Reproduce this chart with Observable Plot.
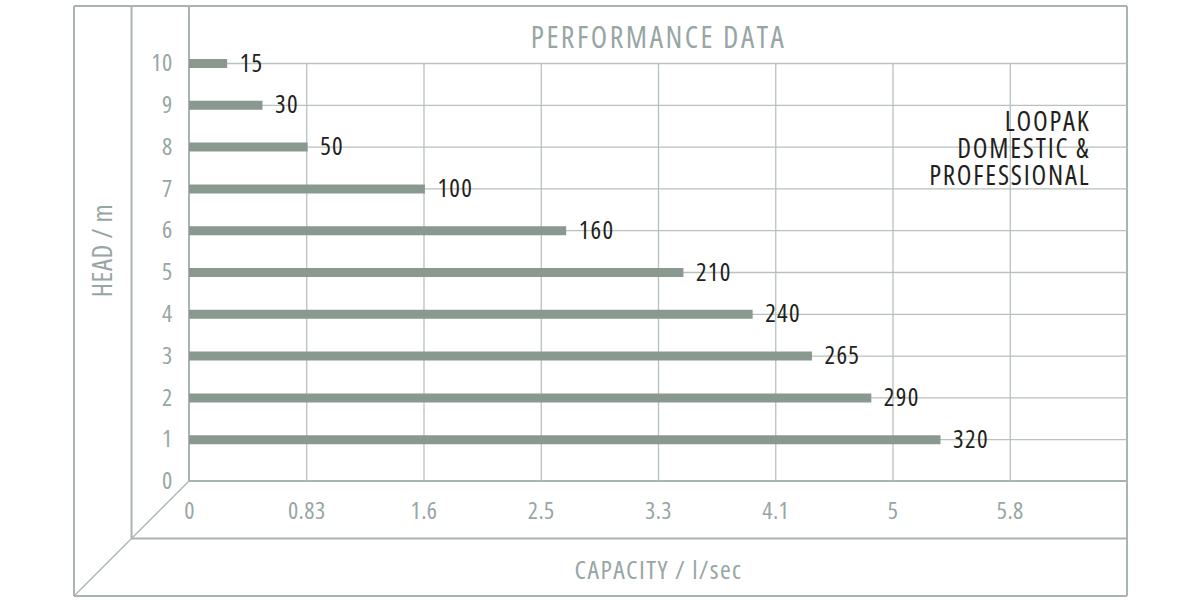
<!DOCTYPE html>
<html><head><meta charset="utf-8">
<script src="https://cdn.jsdelivr.net/npm/d3@7"></script>
<script src="https://cdn.jsdelivr.net/npm/@observablehq/plot@0.6"></script>
<style>
body{margin:0;background:#fff;}
svg text{font-family:'Open Sans','DejaVu Sans Condensed',sans-serif; font-stretch:75%;}
.ttl text{letter-spacing:2.5px;}
.val text{letter-spacing:1.3px;}
.ser text{letter-spacing:1.8px;}
.xl text{letter-spacing:1.4px;}
.yl text{letter-spacing:0.6px;}
.ax text{letter-spacing:0.4px;}
</style></head><body><div id="chart"></div>
<script>
const heads = [1, 2, 3, 4, 5, 6, 7, 8, 9, 10];
const capacities = [5.32, 4.83, 4.41, 3.99, 3.5, 2.67, 1.67, 0.84, 0.52, 0.27];
const flowLabels = ["320", "290", "265", "240", "210", "160", "100", "50", "30", "15"];
const xTicks = [0, 0.83, 1.66, 2.49, 3.32, 4.15, 4.98, 5.81];
const xTickLabels = ["0", "0.83", "1.6", "2.5", "3.3", "4.1", "5", "5.8"];
const yTicks = [0, 1, 2, 3, 4, 5, 6, 7, 8, 9, 10];
const titleText = "PERFORMANCE DATA";
const seriesName = "LOOPAK\nDOMESTIC &\nPROFESSIONAL";
const xLabel = "CAPACITY / l/sec";
const yLabel = "HEAD / m";

const FONT = "'Open Sans', sans-serif";
const GRID = "#b7c1bd";
const FRAME = "#a9b4b0";
const BAR = "#8a998f";
const TICK = "#97a6a4";
const DARK = "#231f20";
const XMAX = 6.64;

const data = heads.map((h, i) => ({head: h, cap: capacities[i], label: flowLabels[i]}));

const plot = Plot.plot({
  width: 1200, height: 600,
  marginLeft: 189, marginRight: 73, marginTop: 63, marginBottom: 119,
  style: {fontFamily: FONT, background: "white"},
  x: {domain: [0, XMAX]},
  y: {domain: [0, 10]},
  marks: [
    Plot.ruleY(yTicks.filter(d => d > 0), {y: d => d, x1: 0, x2: XMAX, stroke: GRID, strokeWidth: 1.3}),
    Plot.ruleX(xTicks.filter(d => d > 0), {x: d => d, y1: 0, y2: 10, stroke: GRID, strokeWidth: 1.3}),
    Plot.ruleY(data, {y: "head", x1: 0, x2: "cap", stroke: BAR, strokeWidth: 9}),
    Plot.text(data, {x: "cap", y: "head", text: "label", dx: 12, textAnchor: "start", fontSize: 25, fill: DARK, className: "val"}),
    Plot.axisY({ticks: yTicks, tickSize: 0, tickPadding: 17, fontSize: 24, color: TICK, label: null, className: "ax"}),
    Plot.axisX({ticks: xTicks, tickFormat: d => xTickLabels[xTicks.indexOf(d)], tickSize: 0, tickPadding: 20, fontSize: 24, color: TICK, label: null, className: "ax"}),
    Plot.text([titleText], {text: d => d, frameAnchor: "top", dy: -16, lineAnchor: "bottom", fontSize: 30, fill: TICK, className: "ttl"}),
    Plot.text([seriesName], {text: d => d, frameAnchor: "top-right", dx: -37, dy: 121, lineAnchor: "bottom", textAnchor: "end", fontSize: 27, lineHeight: 1.0, fill: DARK, className: "ser"}),
    Plot.text([xLabel], {text: d => d, frameAnchor: "bottom", dy: 97, lineAnchor: "bottom", fontSize: 26, fill: TICK, className: "xl"}),
    Plot.text([yLabel], {text: d => d, frameAnchor: "left", dx: -86, dy: -22, rotate: -90, textAnchor: "middle", fontSize: 27, fill: TICK, className: "yl"})
  ]
});

// pseudo-3D frame drawn from the scales
const xs = plot.scale("x"), ys = plot.scale("y");
const X0 = xs.apply(0), XR = xs.apply(XMAX), YB = ys.apply(0);
const TOP = 6, D = 57.5;
const segs = [
  [X0 - 2 * D, TOP, XR, TOP],
  [XR, TOP, XR, YB + 2 * D],
  [X0 - 2 * D, TOP, X0 - 2 * D, YB + 2 * D],
  [X0 - 2 * D, YB + 2 * D, XR, YB + 2 * D],
  [X0 - D, TOP, X0 - D, YB + D],
  [X0 - D, YB + D, XR, YB + D],
  [X0, TOP, X0, YB],
  [X0, YB, XR, YB],
  [X0, YB, X0 - 2 * D, YB + 2 * D]
];
const g = d3.select(plot).append("g").attr("stroke", FRAME).attr("fill", "none");
g.selectAll("line").data(segs).join("line")
  .attr("x1", d => d[0]).attr("y1", d => d[1]).attr("x2", d => d[2]).attr("y2", d => d[3])
  .attr("stroke-width", (d, i) => i === 8 ? 1.3 : 2);
g.lower();
document.getElementById("chart").appendChild(plot);
</script></body></html>
